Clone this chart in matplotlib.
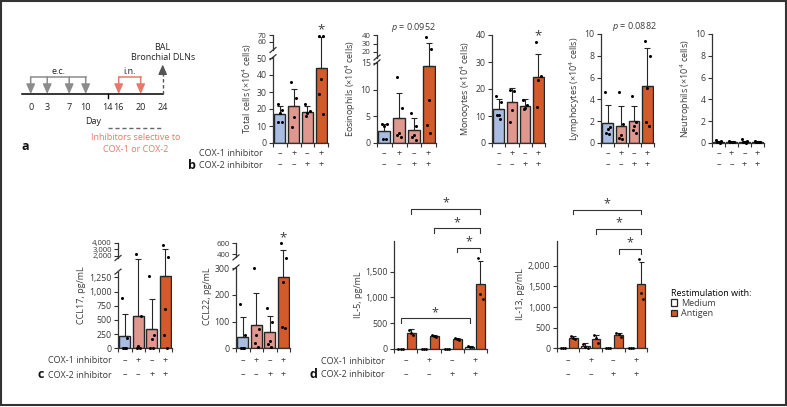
import matplotlib
matplotlib.use("Agg")
import matplotlib.pyplot as plt
import numpy as np
from matplotlib.lines import Line2D
from matplotlib.patches import Patch, Rectangle
from matplotlib.ticker import FuncFormatter
from matplotlib.transforms import IdentityTransform, blended_transform_factory

W, H = 787, 407

# ---------------- data ----------------
cox1_signs = ["–", "+", "–", "+"]
cox2_signs = ["–", "–", "+", "+"]

protocol_days = [0, 3, 7, 10, 14, 16, 20, 24]
ec_days = [0, 3, 7, 10]
in_days = [16, 20]
harvest_day = 24
inhibitor_days = [14, 24]

total_mean = [17, 21.5, 18.5, 44]
total_err = [5, 10.5, 3, 23]
total_dots = [[23, 19.5, 17.5, 12.5, 12.5], [36, 26.5, 15.5, 9.5],
              [23, 19, 17.5, 16], [68.5, 68, 37.5, 29, 17]]

eos_mean = [2.3, 4.7, 2.4, 14.5]
eos_err = [1.3, 4.7, 2.3, 16]
eos_dots = [[3.5, 3.5, 3.2, 0.7, 0.7], [12.3, 6.6, 1.9, 1.5, 1.2],
            [5.7, 3.2, 1.5, 1.1, 0.5], [37.5, 23.5, 8.1, 3.4, 1.9]]

mono_mean = [12.5, 15.3, 13.8, 24.3]
mono_err = [3.8, 5.2, 2.4, 8.7]
mono_dots = [[17.5, 15.3, 10.5, 10.5, 8.8], [19.6, 19.4, 12.2, 7.9],
             [16, 14, 13, 12.5], [37.3, 24.8, 23.3, 13.4]]

lymph_mean = [1.85, 1.6, 2.0, 5.2]
lymph_err = [1.65, 1.8, 1.4, 3.5]
lymph_dots = [[4.7, 1.5, 1.3, 0.9, 0.8], [4.7, 1.7, 0.7, 0.5, 0.4],
              [4.3, 1.9, 1.6, 1.2, 0.9], [9.4, 8.0, 5.0, 1.9, 1.6]]

neut_mean = [0.12, 0.1, 0.12, 0.1]
neut_err = [0.08, 0.05, 0.1, 0.05]
neut_dots = [[0.3, 0.15, 0.1, 0.05, 0.02], [0.15, 0.1, 0.08, 0.05, 0.05],
             [0.35, 0.15, 0.1, 0.05, 0.02], [0.2, 0.12, 0.1, 0.05, 0.05]]

ccl17_mean = [210, 575, 340, 1290]
ccl17_err = [390, 1310, 530, 1710]
ccl17_dots = [[890, 180, 0, 0, 0], [2250, 575, 40, 0, 0],
              [1290, 240, 170, 0, 0], [3700, 1950, 700, 235, 0]]

ccl22_mean = [44, 88, 60, 268]
ccl22_err = [72, 120, 62, 210]
ccl22_dots = [[166, 50, 0, 0, 0], [300, 71, 50, 21, 5],
              [152, 97, 28, 16, 5], [600, 371, 247, 79, 75]]

il5_medium = [5, 5, 5, 45]
il5_medium_err = [3, 3, 3, 20]
il5_medium_dots = [[4, 5, 6], [4, 5, 6], [4, 5, 6], [60, 45, 30]]
il5_antigen = [316, 255, 190, 1270]
il5_antigen_err = [64, 20, 20, 435]
il5_antigen_dots = [[370, 310, 270], [275, 255, 240], [205, 185, 175], [1770, 1070, 970]]

il13_medium = [5, 57, 5, 5]
il13_medium_err = [3, 64, 3, 3]
il13_medium_dots = [[4, 5, 6], [115, 40, 15], [4, 5, 6], [4, 5, 6]]
il13_antigen = [257, 235, 330, 1560]
il13_antigen_err = [45, 90, 50, 530]
il13_antigen_dots = [[300, 255, 225], [330, 240, 135], [370, 355, 265], [2160, 1330, 1200]]

# significant comparisons: (group, series) -> (group, series)
il5_pairs = [((0, "A"), (3, "A")), ((1, "A"), (3, "A")), ((2, "A"), (3, "A")), ((0, "M"), (3, "M"))]
il13_pairs = [((0, "A"), (3, "A")), ((1, "A"), (3, "A")), ((2, "A"), (3, "A"))]

# ---------------- style ----------------
plt.rcParams["font.family"] = ["Open Sans", "DejaVu Sans"]
plt.rcParams["font.size"] = 6.5
plt.rcParams["mathtext.fontset"] = "custom"
plt.rcParams["mathtext.rm"] = "Open Sans"
plt.rcParams["mathtext.it"] = "Open Sans:italic"

BLUE = "#a9bde3"
SALMON = "#e0978d"
ORANGE = "#d25a2b"
bar_colors = [BLUE, SALMON, SALMON, ORANGE]
EDGE = "#262626"
INK = "#333333"
TXT = "#3a3a3a"
JITTER = [-0.17, 0.17, 0.0, -0.12, 0.12]
PX = 0.72  # points per pixel at dpi 100
FS = 6.5
TICK_FS = 6.3
UPPER_TICK_FS = 5.6

fig = plt.figure(figsize=(W / 100, H / 100), dpi=100)


def rect(left, top, right, bottom):
    return [left / W, 1 - bottom / H, (right - left) / W, (bottom - top) / H]


def piecewise(xp, fp):
    xp = np.asarray(xp, float)
    fp = np.asarray(fp, float)
    s0 = (fp[1] - fp[0]) / (xp[1] - xp[0])
    s1 = (fp[-1] - fp[-2]) / (xp[-1] - xp[-2])

    def f(v):
        v = np.asarray(v, float)
        out = np.interp(v, xp, fp)
        out = np.where(v < xp[0], fp[0] + (v - xp[0]) * s0, out)
        out = np.where(v > xp[-1], fp[-1] + (v - xp[-1]) * s1, out)
        return out

    return f


def comma(v, _):
    return f"{v:,.0f}"


def style_axes(ax, n_slots, bottom_px, rows_px):
    ax.set_xlim(-0.5, n_slots - 0.5)
    ax.set_xticks(np.arange(-0.5, n_slots))
    ax.set_xticklabels([])
    for s in ("top", "right"):
        ax.spines[s].set_visible(False)
    for s in ("left", "bottom"):
        ax.spines[s].set_color(INK)
        ax.spines[s].set_linewidth(0.9)
    ax.tick_params(length=3, width=0.8, color=INK, labelcolor=TXT, labelsize=TICK_FS, pad=1.5)
    ax.patch.set_alpha(0)
    for signs, row in zip((cox1_signs, cox2_signs), rows_px):
        for i, s in enumerate(signs):
            ax.annotate(s, xy=(i, 0), xycoords=("data", "axes fraction"),
                        xytext=(0, -(row - bottom_px) * PX), textcoords="offset points",
                        ha="center", va="center", color=TXT, fontsize=FS)


def draw_break(ax, ylim, lower_top, upper_bottom):
    ax.spines["left"].set_visible(False)
    tr = blended_transform_factory(ax.transAxes, ax.transData)
    ax.plot([0, 0], [ylim[0], lower_top], transform=tr, color=INK, lw=0.9, clip_on=False)
    ax.plot([0, 0], [upper_bottom, ylim[1]], transform=tr, color=INK, lw=0.9, clip_on=False)
    for yb in (lower_top, upper_bottom):
        px, py = tr.transform((0, yb))
        fig.add_artist(Line2D([px - 3, px + 3], [py - 2.5, py + 2.5], transform=IdentityTransform(),
                              color=INK, lw=0.9))
    # the crowded ticks above the break get a slightly smaller label
    for tick_val, lab in zip(ax.get_yticks(), ax.get_yticklabels()):
        if tick_val > upper_bottom:
            lab.set_fontsize(UPPER_TICK_FS)


def bar_panel(box, rows, means, errs, dots, ylabel, ylim, yticks, brk=None,
              star=False, pval=None, fmt=False):
    left, top, right, bottom = box
    ax = fig.add_axes(rect(*box))
    if brk is not None:
        knots, heights, lower_top, upper_bottom = brk
        ax.set_yscale("function", functions=(piecewise(knots, heights), piecewise(heights, knots)))
    x = np.arange(len(means))
    ax.bar(x, means, width=0.8, color=bar_colors, edgecolor=EDGE, linewidth=1.0, zorder=2)
    ax.errorbar(x, means, yerr=[np.zeros(len(means)), errs], fmt="none", ecolor=EDGE,
                elinewidth=0.8, capsize=2.2, capthick=0.8, zorder=3)
    for i, vals in enumerate(dots):
        ax.plot(i + np.array(JITTER[:len(vals)]), vals, "o", ms=2.2, color="black",
                mec="none", zorder=4, clip_on=False)
    ax.set_ylim(*ylim)
    ax.set_yticks(yticks)
    if fmt:
        ax.yaxis.set_major_formatter(FuncFormatter(comma))
    else:
        ax.yaxis.set_major_formatter(FuncFormatter(lambda v, _: f"{v:g}"))
    ax.set_ylabel(ylabel, color=TXT, fontsize=FS, labelpad=2)
    style_axes(ax, len(means), bottom, rows)
    if brk is not None:
        draw_break(ax, ylim, lower_top, upper_bottom)
    if star:
        top_val = max(dots[-1])
        ax.annotate("*", xy=(3, top_val), xytext=(0, 6 * PX), textcoords="offset points",
                    ha="center", va="center", fontsize=9.5, color=TXT)
    if pval is not None:
        ax.annotate(pval, xy=(2, 1), xycoords=("data", "axes fraction"),
                    xytext=(0, 7 * PX), textcoords="offset points",
                    ha="center", va="center", fontsize=FS, color=TXT)
    return ax


def stim_panel(box, rows, med, med_err, med_dots, ant, ant_err, ant_dots,
               ylabel, ylim, yticks, pairs, levels):
    left, top, right, bottom = box
    ax = fig.add_axes(rect(*box))
    g = np.arange(len(med))
    offs = {"M": -0.23, "A": 0.23}
    for key, vals, errs, dots, fc in (("M", med, med_err, med_dots, "white"),
                                      ("A", ant, ant_err, ant_dots, ORANGE)):
        ax.bar(g + offs[key], vals, width=0.38, color=fc, edgecolor=EDGE, linewidth=0.9, zorder=2)
        ax.errorbar(g + offs[key], vals, yerr=[np.zeros(len(vals)), errs], fmt="none",
                    ecolor=EDGE, elinewidth=0.8, capsize=1.8, capthick=0.8, zorder=3)
        for i, d in enumerate(dots):
            ax.plot(g[i] + offs[key] + np.array([-0.09, 0.0, 0.09]), d, "o", ms=2.0,
                    color="black", mec="none", zorder=4, clip_on=False)
    ax.set_ylim(*ylim)
    ax.set_yticks(yticks)
    ax.yaxis.set_major_formatter(FuncFormatter(comma))
    ax.set_ylabel(ylabel, color=TXT, fontsize=FS, labelpad=2)
    style_axes(ax, len(med), bottom, rows)
    units_per_px = (ylim[1] - ylim[0]) / (bottom - top)
    tick = 4.5 * units_per_px
    for ((g1, s1), (g2, s2)), lev in zip(pairs, levels):
        x1 = g1 + offs[s1]
        x2 = g2 + offs[s2]
        ax.plot([x1, x1, x2, x2], [lev - tick, lev, lev, lev - tick], color=INK, lw=0.8,
                clip_on=False)
        ax.text((x1 + x2) / 2, lev + 6 * units_per_px, "*", ha="center", va="center",
                fontsize=9, color=TXT)
    return ax


# ---------------- panel a: protocol ----------------
axa = fig.add_axes(rect(0, 30, 200, 160))
axa.set_xlim(-30.7 / 5.5, (200 - 30.7) / 5.5)
axa.set_ylim(160, 30)
axa.axis("off")
LINE_Y = 94.5
GRAY = "#8c8c8c"
IN_COL = "#e57a69"
axa.plot([protocol_days[0] - 1.6, harvest_day], [LINE_Y, LINE_Y], color="black", lw=1.1)
axa.plot([14, 14], [LINE_Y, LINE_Y + 4], color="black", lw=1.0)
for d in protocol_days:
    axa.text(d, 107.5, str(d), ha="center", va="center", fontsize=FS, color="#222")
axa.text(11.3, 122, "Day", ha="center", va="center", fontsize=FS, color="#222")
arrow_style = "-|>,head_length=0.9,head_width=0.4"
for days, col, lab in ((ec_days, GRAY, "e.c."), (in_days, IN_COL, "i.n.")):
    axa.plot([days[0], days[-1]], [77, 77], color=col, lw=1.1)
    for d in days:
        axa.annotate("", xy=(d, LINE_Y - 0.5), xytext=(d, 77),
                     arrowprops=dict(arrowstyle=arrow_style, color=col, lw=1.1,
                                     shrinkA=0, shrinkB=0, mutation_scale=6.5))
    axa.text(np.mean([days[0], days[-1]]), 71, lab, ha="center", va="center", fontsize=FS,
             color="#222")
axa.plot([harvest_day, harvest_day], [LINE_Y, 70], color="#555", lw=1.0, dashes=(2.5, 1.8))
axa.annotate("", xy=(harvest_day, 64.5), xytext=(harvest_day, 70.5),
             arrowprops=dict(arrowstyle=arrow_style, color="#555", lw=1.0,
                             shrinkA=0, shrinkB=0, mutation_scale=6.5))
axa.text(harvest_day, 47, "BAL", ha="center", va="center", fontsize=FS, color="#222")
axa.text(harvest_day, 58, "Bronchial DLNs", ha="center", va="center", fontsize=FS, color="#222")
axa.plot(inhibitor_days, [128, 128], color="#666", lw=1.0, dashes=(3, 2))
axa.text(np.mean(inhibitor_days), 137.5, "Inhibitors selective to", ha="center", va="center",
         fontsize=FS, color=IN_COL)
axa.text(np.mean(inhibitor_days), 149, "COX-1 or COX-2", ha="center", va="center",
         fontsize=FS, color=IN_COL)

# ---------------- panel b: BAL cells ----------------
rows_b = (153.5, 165)
cells = "(×10$^{4}$ cells)"
bar_panel((273, 35, 328, 143), rows_b, total_mean, total_err, total_dots,
          f"Total cells {cells}", (0, 70), [0, 10, 20, 30, 40, 50, 60, 70],
          brk=([0, 50, 60, 70], [0, 85, 101, 108], 50.5, 55), star=True)
bar_panel((377, 35, 436, 143), rows_b, eos_mean, eos_err, eos_dots,
          f"Eosinophils {cells}", (0, 40), [0, 5, 10, 15, 20, 30, 40],
          brk=([0, 15, 20, 40], [0, 80, 91, 108], 15.3, 17.5), pval="$p$ = 0.0952")
bar_panel((492, 35, 545, 143), rows_b, mono_mean, mono_err, mono_dots,
          f"Monocytes {cells}", (0, 40), [0, 10, 20, 30, 40], star=True)
bar_panel((601, 34, 654, 143), rows_b, lymph_mean, lymph_err, lymph_dots,
          f"Lymphocytes {cells}", (0, 10), [0, 2, 4, 6, 8, 10], pval="$p$ = 0.0882")
bar_panel((712, 34, 764, 143), rows_b, neut_mean, neut_err, neut_dots,
          f"Neutrophils {cells}", (0, 10), [0, 2, 4, 6, 8, 10])

# ---------------- panel c: chemokines ----------------
rows_c = (360.7, 375)
bar_panel((118, 242.7, 172, 348.3), rows_c, ccl17_mean, ccl17_err, ccl17_dots,
          "CCL17, pg/mL", (0, 4000), [0, 250, 500, 750, 1000, 1250, 2000, 3000, 4000],
          brk=([0, 1250, 2000, 4000], [0, 71, 92.3, 105.6], 1450, 1930), fmt=True)
bar_panel((236, 243.3, 290, 348.3), rows_c, ccl22_mean, ccl22_err, ccl22_dots,
          "CCL22, pg/mL", (0, 600), [0, 100, 200, 300, 400, 600],
          brk=([0, 300, 400, 600], [0, 80, 94, 105], 306, 378), star=True)

# ---------------- panel d: restimulation ----------------
rows_d = (361, 374.3)
stim_panel((394.3, 240.7, 486.7, 349), rows_d, il5_medium, il5_medium_err, il5_medium_dots,
           il5_antigen, il5_antigen_err, il5_antigen_dots, "IL-5, pg/mL", (0, 2100),
           [0, 500, 1000, 1500], il5_pairs, [2713, 2339, 1963, 595])
stim_panel((556.7, 240.7, 647.3, 348.3), rows_d, il13_medium, il13_medium_err, il13_medium_dots,
           il13_antigen, il13_antigen_err, il13_antigen_dots, "IL-13, pg/mL", (0, 2610),
           [0, 500, 1000, 1500, 2000], il13_pairs, [3355, 2887, 2402])

fig.legend(handles=[Patch(fc="white", ec=EDGE, lw=0.9, label="Medium"),
                    Patch(fc=ORANGE, ec=EDGE, lw=0.9, label="Antigen")],
           title="Restimulation with:", loc="upper left",
           bbox_to_anchor=(666 / W, 1 - 284 / H), frameon=False, fontsize=FS,
           title_fontsize=FS, handlelength=0.75, handleheight=0.75, handletextpad=0.4,
           labelspacing=0.15, borderpad=0, alignment="left", labelcolor=TXT)

# ---------------- row labels and panel letters ----------------
for xr, rows in ((263, rows_b), (111.7, rows_c), (384.3, rows_d)):
    fig.text(xr / W, 1 - rows[0] / H, "COX-1 inhibitor", ha="right", va="center", color=TXT)
    fig.text(xr / W, 1 - rows[1] / H, "COX-2 inhibitor", ha="right", va="center", color=TXT)
for lab, (lx, ly) in {"a": (25, 146), "b": (192, 165), "c": (41, 375), "d": (313, 374)}.items():
    fig.text(lx / W, 1 - ly / H, lab, ha="center", va="center", fontsize=9,
             fontweight="bold", color="#111")

fig.add_artist(Rectangle((1 / W, 2 / H), 785 / W, 404 / H, transform=fig.transFigure,
                         fill=False, ec="#333", lw=1.5))

fig.savefig("out.png", dpi=100)
